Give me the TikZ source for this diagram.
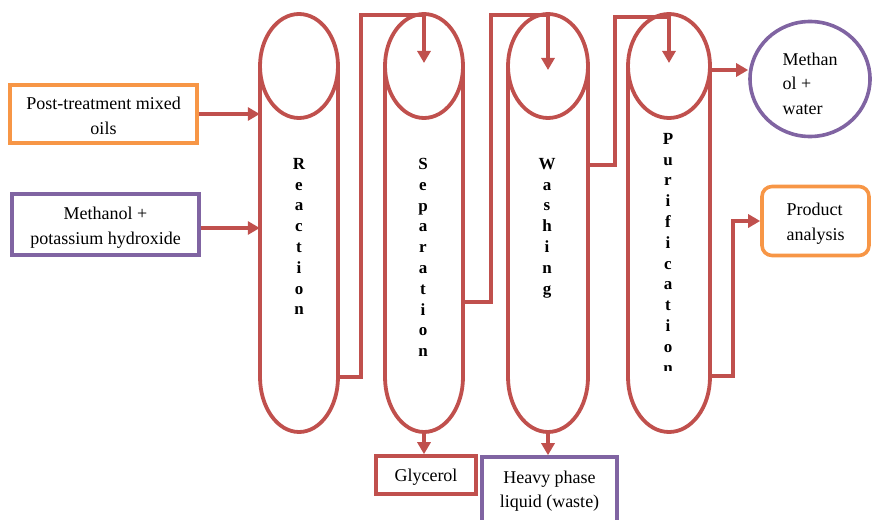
\documentclass[tikz,border=0pt]{standalone}
\usepackage{fontspec}
\setmainfont{Liberation Serif}
\usetikzlibrary{arrows.meta,shapes.geometric}
\definecolor{flowred}{HTML}{C0504D}
\definecolor{feedorange}{HTML}{F79646}
\definecolor{feedpurple}{HTML}{8064A2}

\tikzset{
  pipe/.style={draw=flowred, line width=3.8pt},
  flow/.style={pipe, -{Triangle[length=12pt,width=13pt]}},
  box/.style={rectangle, line width=3.6pt, inner sep=0pt, align=center,
    font=\rmfamily\fontsize{18}{25}\selectfont},
  colframe/.style={rectangle, inner sep=0pt, minimum width=#1, minimum height=416pt},
  letters/.style={anchor=north, inner sep=0pt, align=center,
    font=\rmfamily\fontsize{17}{20.8}\selectfont\bfseries},
}

% one process column: name, centre x, half width
\newcommand\drawcolumn[3]{%
  \node[colframe={2*#3pt}] (#1) at (#2,222) {};
  \draw[pipe] (#2,66) ellipse [x radius=#3, y radius=52];
  \draw[pipe] (#2-#3,66) -- (#2-#3,378) (#2+#3,66) -- (#2+#3,378);
  \begin{scope}
    \clip (#2-#3-6,377) rectangle (#2+#3+6,440);
    \draw[pipe] (#2,377) ellipse [x radius=#3, y radius=55];
  \end{scope}
}

\begin{document}
\begin{tikzpicture}[x=1pt,y=-1pt]
\useasboundingbox (0,0) rectangle (872,519);
\clip (0,0) rectangle (872,519);

% process columns
\drawcolumn{reac}{299}{39}
\drawcolumn{sep}{424}{39}
\drawcolumn{wash}{548}{40}
\drawcolumn{puri}{669}{41}

% vertical stage names
\node[letters] (reactxt) at (299,158) {R\\e\\a\\c\\t\\i\\o\\n};
\node[letters] (septxt) at (423,158) {S\\e\\p\\a\\r\\a\\t\\i\\o\\n};
\node[letters] (washtxt) at (547,158) {W\\a\\s\\h\\i\\n\\g};
\begin{scope}
  \clip (640,120) rectangle (700,370);
  \node[letters] (puritxt) at (668,133) {P\\u\\r\\i\\f\\i\\c\\a\\t\\i\\o\\n};
\end{scope}

% feeds
\node[box, draw=feedorange, minimum width=187pt, minimum height=58pt, text height=41.5pt]
  (oil) at (103.5,114) {Post-treatment mixed\\oils};
\node[box, draw=feedpurple, minimum width=187pt, minimum height=61pt, text height=43pt]
  (koh) at (105.5,224.5) {Methanol +\\potassium hydroxide};

% products
\node[ellipse, draw=feedpurple, line width=3.6pt, inner sep=0pt,
  minimum width=120pt, minimum height=115pt, align=left, text height=71pt,
  font=\rmfamily\fontsize{18}{24.5}\selectfont] (mw) at (810,79) {Methan\\ol +\\water};
\node[box, draw=feedorange, rounded corners=10pt, align=left, text height=43pt,
  minimum width=107pt, minimum height=69pt] (prod) at (815.5,221) {Product\\analysis};
\node[box, draw=flowred, minimum width=100pt, minimum height=38pt, text height=16pt]
  (gly) at (426,475) {Glycerol};
\node[box, draw=feedpurple, minimum width=135pt, minimum height=68pt,
  font=\rmfamily\fontsize{18}{24}\selectfont] (heavy) at (549.5,491) {Heavy phase\\liquid (waste)};

% free ends of the transfer lines
\coordinate (sepin) at (424,63);
\coordinate (washin) at (548,70);
\coordinate (puriin) at (669,63);

% connectors
\draw[flow] (oil.east) -- (oil.east -| reac.west);
\draw[flow] (koh.east |- 0,228) -- (reac.west |- 0,228);
\draw[flow] (reac.east |- 0,377) -| (361,15) -| (sepin);
\draw[flow] (sep.east |- 0,302) -| (491,15) -| (washin);
\draw[flow] (wash.east |- 0,165) -| (615,17) -| (puriin);
\draw[flow] (puri.east |- 0,70) -- (mw.west |- 0,70);
\draw[flow] (puri.east |- 0,376) -| (733,221) -- (prod.west);
\draw[flow] (sep.south) -- (sep.south |- gly.north);
\draw[flow] (wash.south) -- (wash.south |- heavy.north);
\end{tikzpicture}
\end{document}
